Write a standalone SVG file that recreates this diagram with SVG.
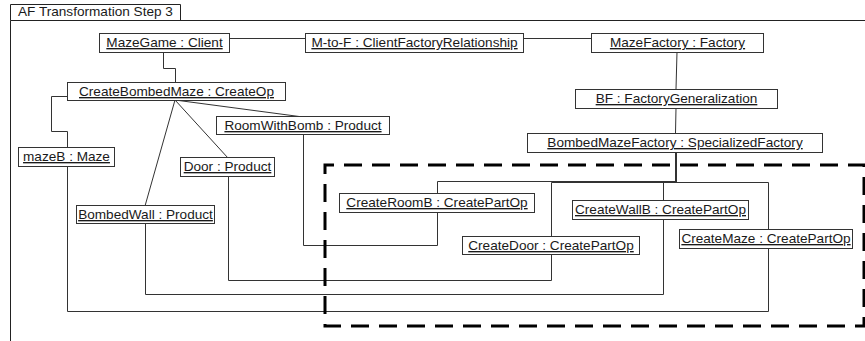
<svg xmlns="http://www.w3.org/2000/svg" width="865" height="341" viewBox="0 0 865 341">
  <style>
    .frame { fill: none; stroke: #222; stroke-width: 1; }
    .box { fill: #fff; stroke: #333; stroke-width: 1; }
    .lbl { font-family: "Liberation Sans", Arial, sans-serif; font-size: 13.6px; fill: #1a1a1a; text-anchor: middle; text-decoration: underline; }
    .title { font-family: "Liberation Sans", Arial, sans-serif; font-size: 13.6px; fill: #1a1a1a; }
    .conn { fill: none; stroke: #333; stroke-width: 1; }
    .region { fill: none; stroke: #000; stroke-width: 3; stroke-dasharray: 18 10; stroke-dashoffset: 9; }
  </style>
  <rect width="865" height="341" fill="#fff"/>

  <!-- diagram frame with its name tab -->
  <g id="frame">
    <path class="frame" d="M10.5,341 V20.5 H865"/>
    <path class="frame" d="M10.5,20.5 V4.5 H180.5 V20.5"/>
    <text class="title" x="18" y="16">AF Transformation Step 3</text>
  </g>

  <!-- links between the objects -->
  <g id="connectors">
    <path class="conn" d="M229,38.5 H305"/>
    <path class="conn" d="M523,38.5 H591"/>
    <path class="conn" d="M163.5,52 V68.5 H175.5 V82"/>
    <path class="conn" d="M67,96.5 H51.5 V131.5 H67.5 V147"/>
    <path class="conn" d="M175,100 L145,206"/>
    <path class="conn" d="M175,100 L228,158"/>
    <path class="conn" d="M175,100 L303,117"/>
    <path class="conn" d="M67.5,166 V311.5 H768.5 V248"/>
    <path class="conn" d="M145.5,224 V294.5 H663.5 V219"/>
    <path class="conn" d="M228.5,176 V280.5 H551.5 V255"/>
    <path class="conn" d="M303.5,135 V245.5 H437.5 V212"/>
    <path class="conn" d="M677,52 L676,89"/>
    <path class="conn" d="M676,108 L675.5,133"/>
    <path class="conn" d="M675.5,152 V181.5 H437.5 V193"/>
    <path class="conn" d="M676.5,152 V182.5 H551.5 V236"/>
    <path class="conn" d="M675.5,152 V182.5 H663.5 V200"/>
    <path class="conn" d="M675.5,152 V182.5 H768.5 V229"/>
  </g>

  <!-- dashed boundary round the create-part operations -->
  <path class="region" d="M325,165 H864 V326 H325 Z"/>

  <g id="mazegame">
    <rect class="box" x="99.5" y="33.5" width="130" height="19"/>
    <text class="lbl" x="164.5" y="47">MazeGame : Client</text>
  </g>
  <g id="mtof">
    <rect class="box" x="305.5" y="33.5" width="218" height="19"/>
    <text class="lbl" x="414.5" y="47">M-to-F : ClientFactoryRelationship</text>
  </g>
  <g id="mazefactory">
    <rect class="box" x="591.5" y="33.5" width="172" height="19"/>
    <text class="lbl" x="677.5" y="47">MazeFactory : Factory</text>
  </g>
  <g id="createbombedmaze">
    <rect class="box" x="67.5" y="82.5" width="218" height="18"/>
    <text class="lbl" x="176.5" y="96">CreateBombedMaze : CreateOp</text>
  </g>
  <g id="bf">
    <rect class="box" x="575.5" y="89.5" width="202" height="19"/>
    <text class="lbl" x="676.5" y="103">BF : FactoryGeneralization</text>
  </g>
  <g id="mazeb">
    <rect class="box" x="18.5" y="147.5" width="96" height="19"/>
    <text class="lbl" x="66.5" y="161">mazeB : Maze</text>
  </g>
  <g id="roomwithbomb">
    <rect class="box" x="216.5" y="116.5" width="173" height="18"/>
    <text class="lbl" x="303" y="130">RoomWithBomb : Product</text>
  </g>
  <g id="door">
    <rect class="box" x="180.5" y="157.5" width="94" height="19"/>
    <text class="lbl" x="227.5" y="171">Door : Product</text>
  </g>
  <g id="bombedmazefactory">
    <rect class="box" x="527.5" y="133.5" width="295" height="19"/>
    <text class="lbl" x="675" y="147">BombedMazeFactory : SpecializedFactory</text>
  </g>
  <g id="bombedwall">
    <rect class="box" x="76.5" y="205.5" width="138" height="18"/>
    <text class="lbl" x="145.5" y="219">BombedWall : Product</text>
  </g>
  <g id="createroomb">
    <rect class="box" x="339.5" y="193.5" width="195" height="19"/>
    <text class="lbl" x="437" y="207">CreateRoomB : CreatePartOp</text>
  </g>
  <g id="createwallb">
    <rect class="box" x="572.5" y="200.5" width="176" height="19"/>
    <text class="lbl" x="660.5" y="214">CreateWallB : CreatePartOp</text>
  </g>
  <g id="createdoor">
    <rect class="box" x="462.5" y="236.5" width="177" height="18"/>
    <text class="lbl" x="551" y="250">CreateDoor : CreatePartOp</text>
  </g>
  <g id="createmaze">
    <rect class="box" x="679.5" y="229.5" width="173" height="19"/>
    <text class="lbl" x="766" y="243">CreateMaze : CreatePartOp</text>
  </g>
</svg>
